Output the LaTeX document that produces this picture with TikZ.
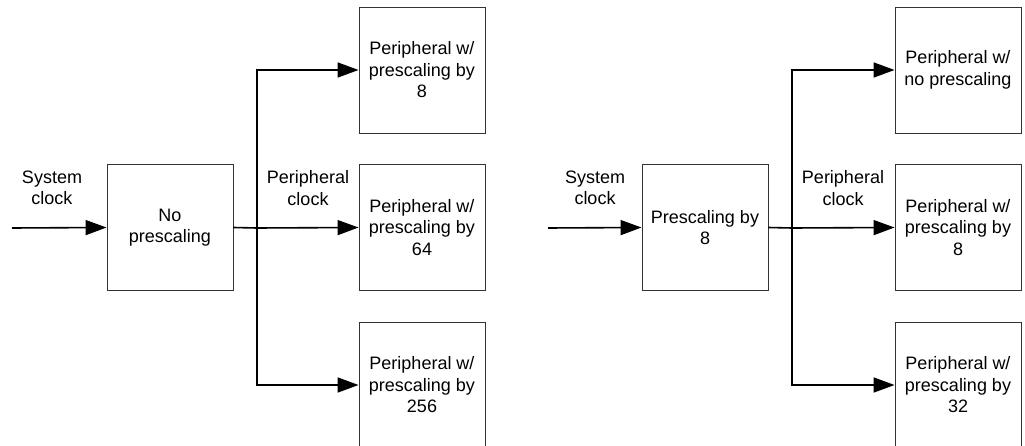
\documentclass[tikz,border=0pt]{standalone}
\usepackage{fontspec}
\setmainfont{Liberation Sans}
\usetikzlibrary{arrows.meta}
\begin{document}
\begin{tikzpicture}[x=1pt,y=-1pt,
  box/.style={draw=black!80,line width=0.9pt,minimum width=126pt,minimum height=126pt,inner sep=0pt,align=center,font=\fontsize{18}{21.5}\selectfont},
  lbl/.style={align=center,font=\fontsize{18}{21.5}\selectfont,inner sep=0pt},
  conn/.style={line width=1.6pt,-{Triangle[length=21pt,width=15pt]}},
  wire/.style={line width=1.6pt}]
\useasboundingbox (0,0) rectangle (1025,446);
\clip (0,0) rectangle (1025,446);
% left
\coordinate (inL) at (12,228);
\node[box] (nop) at (170,227.5) {No\\prescaling};
\coordinate (brL) at (257,228);
\node[box] (l1) at (422,70) {Peripheral w/\\prescaling by\\8};
\node[box] (l2) at (422,227.5) {Peripheral w/\\prescaling by\\64};
\node[box] (l3) at (422,385) {Peripheral w/\\prescaling by\\256};
\node[lbl] (sysL) at (52,188) {System\\clock};
\node[lbl] (perL) at (308,188) {Peripheral\\clock};
\draw[conn] (inL) -- (nop.west);
\draw[wire] (nop.east) -- (brL);
\draw[conn] (brL) |- (l1.west);
\draw[conn] (brL) -- (l2.west);
\draw[conn] (brL) |- (l3.west);
% right
\coordinate (inR) at (548,228);
\node[box] (pre) at (705,227.5) {Prescaling by\\8};
\coordinate (brR) at (792,228);
\node[box] (r1) at (958,70) {Peripheral w/\\no prescaling};
\node[box] (r2) at (958,227.5) {Peripheral w/\\prescaling by\\8};
\node[box] (r3) at (958,385) {Peripheral w/\\prescaling by\\32};
\node[lbl] (sysR) at (595,188) {System\\clock};
\node[lbl] (perR) at (843,188) {Peripheral\\clock};
\draw[conn] (inR) -- (pre.west);
\draw[wire] (pre.east) -- (brR);
\draw[conn] (brR) |- (r1.west);
\draw[conn] (brR) -- (r2.west);
\draw[conn] (brR) |- (r3.west);
\end{tikzpicture}
\end{document}
